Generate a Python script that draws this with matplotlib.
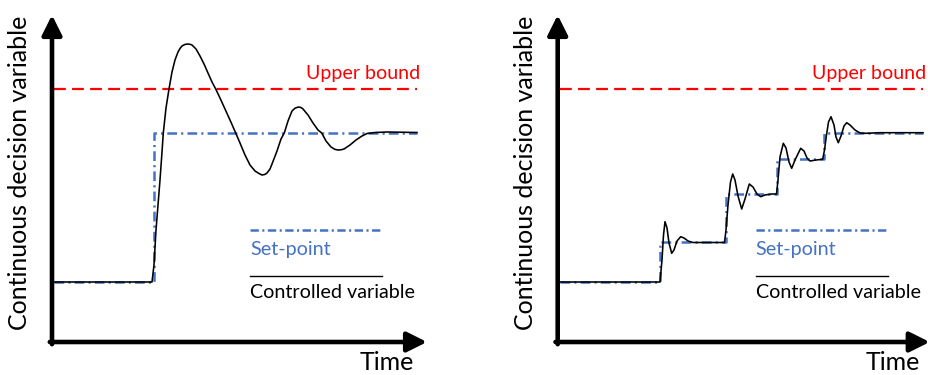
import matplotlib as mpl
mpl.use('Agg')
import matplotlib.pyplot as plt

plt.rcParams['font.family'] = ['Lato', 'DejaVu Sans']
plt.rcParams['lines.scale_dashes'] = False

# set-point schedule (time, value), drawn as steps
sp_left_t = [2, 102, 365]
sp_left_v = [60, 209, 209]
sp_right_t = [2, 102, 168, 219, 266, 365]
sp_right_v = [60, 100, 148, 183, 209, 209]

upper_bound = 253

# controlled variable
cv_left_t = [2, 100, 102, 104, 106, 108, 110, 111.3, 114, 117, 120, 123, 126, 128, 130,
             133, 135.7, 138, 140, 144, 148, 152, 156, 160, 163.7, 168, 173, 178, 183.7,
             188, 193, 198, 203, 207, 210, 213, 215, 218, 220, 225, 229, 232.3, 236, 240,
             243, 246.3, 249, 251, 256, 261, 266, 269.7, 274, 279, 283, 286, 289, 292,
             298, 304, 310, 315, 323, 335, 365]
cv_left_v = [60, 60, 77, 112, 137, 162, 190, 209, 234, 253, 270, 282, 290, 293.5, 296,
             297.6, 298, 297.7, 297, 293, 286, 278, 269, 260, 253, 244, 233, 222, 209,
             199, 187, 177, 171, 168.5, 167, 167.6, 169, 173, 178, 191, 203, 209, 221, 231,
             233.8, 235, 234.5, 233, 227, 219, 212, 209, 201, 195, 192.6, 192, 192.2, 193,
             197, 202, 206, 208.5, 209.5, 210, 209.5]

cv_right_t = [2, 102.3, 104.3, 105.8, 107.3, 109.3, 111.3, 114, 116.3, 119.3, 123, 126.3,
              130.3, 135.3, 152.3, 166.8, 168.3, 170.3, 172.8, 175, 177.3, 180.3, 184,
              187.3, 191.6, 195.3, 199.3, 203, 207.3, 214, 218.8, 220.3, 222.3, 225.6,
              228.3, 231.3, 234, 237.3, 243, 246.3, 249.3, 252.3, 258.3, 265, 266.8,
              268.8, 270.8, 273.3, 276.3, 278.3, 280.6, 283.3, 286.3, 289, 292.3, 297.3,
              302.3, 308.3, 322.3, 365.3]
cv_right_v = [60, 60, 82, 107, 120.3, 114, 99, 88.7, 92, 101, 105.3, 104,
              101, 99.5, 99.5, 99.5, 112, 137, 160, 168, 162, 146, 133,
              143, 158, 155, 148, 145.3, 147, 148, 148, 162, 185, 198.7,
              194, 180, 173.7, 182, 193.7, 191, 184, 181, 182, 182.7, 192,
              207, 220, 225.3, 217, 205, 199.3, 206, 216, 219.3, 217, 212,
              209, 208.7, 209.3, 209.3]

blue = '#4472C4'
red = '#FF0000'

fig = plt.figure(figsize=(9.29, 3.75), dpi=100)
W, H = 929.0, 375.0


def panel(x0, sp_t, sp_v, cv_t, cv_v, xtip):
    ax = fig.add_axes([x0 / W, (H - 342) / H, 375 / W, 327 / H])
    ax.set_xlim(0, 375)
    ax.set_ylim(0, 327)
    ax.axis('off')

    # axes drawn as arrows
    style = '-|>,head_length=0.6,head_width=0.3'
    ax.annotate('', xy=(0, 327), xytext=(0, -2.2),
                arrowprops=dict(arrowstyle=style, lw=3.3, color='k', mutation_scale=20,
                                shrinkA=0, shrinkB=0), annotation_clip=False)
    ax.annotate('', xy=(xtip, 0), xytext=(-2.2, 0),
                arrowprops=dict(arrowstyle=style, lw=3.3, color='k', mutation_scale=20,
                                shrinkA=0, shrinkB=0), annotation_clip=False)

    ax.plot([2, 365], [upper_bound, upper_bound], color=red, lw=1.6, dashes=(8.5, 4.5))
    ax.text(368, 268, 'Upper bound', color=red, fontsize=14.1, ha='right', va='center')

    ax.plot(sp_t, sp_v, color=blue, lw=1.8, drawstyle='steps-post',
            dashes=(7, 3, 1.5, 3))
    ax.plot(cv_t, cv_v, color='k', lw=1.15, solid_joinstyle='round')

    # hand-made legend
    ax.plot([198, 330], [112, 112], color=blue, lw=1.8, dashes=(6, 2.5, 1.5, 2.5))
    ax.text(198, 92, 'Set-point', color=blue, fontsize=14.2, ha='left', va='center')
    ax.plot([198, 330], [66, 66], color='k', lw=1.0)
    ax.text(198, 49, 'Controlled variable', color='k', fontsize=14.2, ha='left', va='center')

    ax.text(362, -20, 'Time', fontsize=18, ha='right', va='center', clip_on=False)
    ax.text(-32, 169, 'Continuous decision variable', fontsize=18, rotation=90,
            ha='center', va='center', clip_on=False)
    return ax


panel(52, sp_left_t, sp_left_v, cv_left_t, cv_left_v, 375)
panel(557.7, sp_right_t, sp_right_v, cv_right_t, cv_right_v, 372)

plt.savefig('out.png', dpi=100)
